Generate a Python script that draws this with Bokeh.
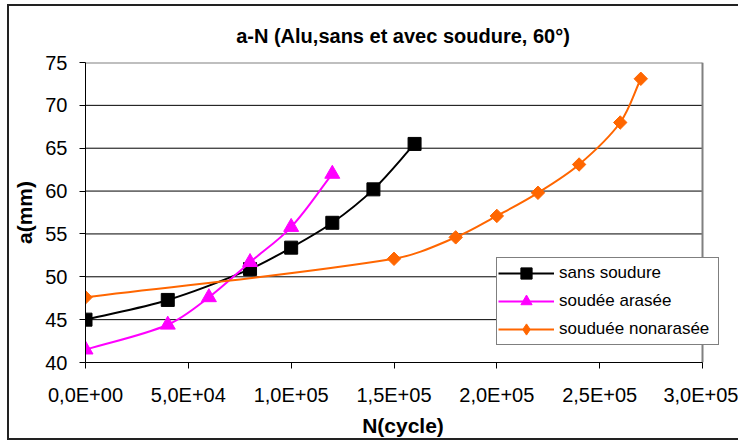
import numpy as np
from bokeh.plotting import figure
from bokeh.models import (FixedTicker, CustomJSTickFormatter, Legend, LegendItem,
                          Range1d, ColumnDataSource, Title)
from bokeh.embed import file_html
from bokeh.resources import INLINE

title_text = "a-N (Alu,sans et avec soudure, 60°)"
x_label = "N(cycle)"
y_label = "a(mm)"
x_ticks = [0, 50000, 100000, 150000, 200000, 250000, 300000]
y_ticks = [40, 45, 50, 55, 60, 65, 70, 75]

series_names = ["sans soudure", "soudée arasée", "souduée nonarasée"]
sans_N = [0, 40000, 80000, 100000, 120000, 140000, 160000]
sans_a = [45.0, 47.3, 50.9, 53.4, 56.3, 60.2, 65.5]
arasee_N = [0, 40000, 60000, 80000, 100000, 120000]
arasee_a = [41.5, 44.4, 47.6, 51.7, 55.8, 62.0]
nonarasee_N = [0, 150000, 180000, 200000, 220000, 240000, 260000, 270000]
nonarasee_a = [47.6, 52.1, 54.6, 57.1, 59.8, 63.1, 68.0, 73.1]

FONT = "Liberation Sans"

X_MIN, X_MAX = x_ticks[0], x_ticks[-1]
Y_MIN, Y_MAX = y_ticks[0], y_ticks[-1]
AXIS_W_PX = 617.0   # pixel length of the 0..3e5 axis
AXIS_H_PX = 300.0   # pixel height of the 40..75 axis
EXTRA_W_PX = 18.0   # frame extends a bit right of the last tick (room for legend)
X_VIEW_END = X_MAX + (X_MAX - X_MIN) * EXTRA_W_PX / AXIS_W_PX


def smooth_segments(xs, ys):
    """Bezier control points for a smooth curve through the data (computed in pixel space)."""
    sx = AXIS_W_PX / (X_MAX - X_MIN)
    sy = AXIS_H_PX / (Y_MAX - Y_MIN)
    P = np.column_stack([np.asarray(xs, float) * sx, np.asarray(ys, float) * sy])
    n = len(P)
    T = np.zeros_like(P)
    for i in range(n):
        a = P[max(i - 1, 0)]
        b = P[min(i + 1, n - 1)]
        d = b - a
        T[i] = d / np.hypot(*d)
    c0, c1 = [], []
    for i in range(n - 1):
        L = np.hypot(*(P[i + 1] - P[i])) / 3.0
        c0.append(P[i] + T[i] * L)
        c1.append(P[i + 1] - T[i + 1] * L)
    c0 = np.array(c0)
    c1 = np.array(c1)
    return dict(
        x0=P[:-1, 0] / sx, y0=P[:-1, 1] / sy, x1=P[1:, 0] / sx, y1=P[1:, 1] / sy,
        cx0=c0[:, 0] / sx, cy0=c0[:, 1] / sy, cx1=c1[:, 0] / sx, cy1=c1[:, 1] / sy,
    )


p = figure(width=731, height=436,
           x_range=Range1d(X_MIN, X_VIEW_END), y_range=Range1d(Y_MIN, Y_MAX),
           output_backend="svg", toolbar_location=None,
           min_border_left=76, min_border_right=20,
           min_border_top=56, min_border_bottom=80,
           background_fill_color="white", border_fill_color="white")
p.styles = {"border-left": "2px solid #222222", "border-top": "2px solid #222222",
            "border-bottom": "2px solid #222222",
            "margin-left": "7px", "margin-top": "4px"}

p.title = Title(text=title_text, align="center", text_font=FONT,
                text_font_size="20px", text_font_style="bold",
                text_color="black", offset=3, standoff=31)

p.outline_line_color = None

for ax in (p.xaxis[0], p.yaxis[0]):
    ax.major_label_text_font = FONT
    ax.major_label_text_font_size = "20px"
    ax.major_label_text_color = "black"
    ax.axis_label_text_font = FONT
    ax.axis_label_text_font_size = "21px"
    ax.axis_label_text_font_style = "bold"
    ax.axis_label_text_color = "black"
    ax.major_tick_out = 6
    ax.major_tick_in = 0
    ax.minor_tick_line_color = None
    ax.axis_line_color = "black"
    ax.major_tick_line_color = "black"

p.xaxis.axis_label = x_label
p.yaxis.axis_label = y_label
p.xaxis.ticker = FixedTicker(ticks=x_ticks)
p.yaxis.ticker = FixedTicker(ticks=y_ticks)
p.xaxis.bounds = (X_MIN, X_MAX)
p.xaxis.major_label_standoff = 15
p.yaxis.major_label_standoff = 12
p.xaxis.axis_label_standoff = 5
p.yaxis.axis_label_standoff = 6
p.xaxis.formatter = CustomJSTickFormatter(code="""
    const s = tick.toExponential(1);
    const parts = s.split('e');
    const sign = parts[1][0];
    let d = parts[1].slice(1);
    if (d.length < 2) d = '0' + d;
    return parts[0].replace('.', ',') + 'E' + sign + d;
""")

# horizontal gridlines limited to the 0..3e5 span, grey border on top and right
p.xgrid.visible = False
p.ygrid.visible = False
inner_y = y_ticks[:-1]
p.segment(x0=[X_MIN] * len(inner_y), x1=[X_MAX] * len(inner_y), y0=inner_y, y1=inner_y,
          line_color="black", line_width=1)
p.segment(x0=[X_MIN, X_MAX], x1=[X_MAX, X_MAX], y0=[Y_MAX, Y_MIN], y1=[Y_MAX, Y_MAX],
          line_color="#808080", line_width=2)

specs = [
    (sans_N, sans_a, "#000000", dict(marker="square", size=13, angle=0.0), None),
    (arasee_N, arasee_a, "#FF00FF", dict(marker="triangle", size=15, angle=0.0), None),
    (nonarasee_N, nonarasee_a, "#FF6600", dict(marker="square", size=9.5, angle=np.pi / 4), "diamond"),
]

items = []
for name, (xs, ys, color, mk, legend_marker) in zip(series_names, specs):
    seg = ColumnDataSource(smooth_segments(xs, ys))
    bz = p.bezier(x0="x0", y0="y0", x1="x1", y1="y1", cx0="cx0", cy0="cy0",
                  cx1="cx1", cy1="cy1", source=seg, line_color=color, line_width=2)
    pts = ColumnDataSource(dict(x=xs, y=ys))
    leg = None
    if legend_marker is not None:
        # same points with the legend's symbol, drawn tiny underneath the visible markers
        leg = p.scatter(x="x", y="y", source=pts, marker=legend_marker, size=2,
                        fill_color=color, line_color=color)
    sc = p.scatter(x="x", y="y", source=pts, marker=mk["marker"], size=mk["size"],
                   angle=mk["angle"], fill_color=color, line_color=color)
    items.append(LegendItem(label=name, renderers=[bz, leg if leg is not None else sc]))

legend = Legend(items=items, location=(411, 17), orientation="vertical",
                border_line_color="black", border_line_width=1,
                background_fill_color="white", background_fill_alpha=1,
                label_text_font=FONT, label_text_font_size="17px",
                label_text_color="black",
                glyph_width=56, glyph_height=28, label_height=28, label_width=158,
                spacing=0, padding=1, margin=0, label_standoff=5)
p.add_layout(legend, "center")

open("out.html", "w").write(file_html(p, INLINE))
